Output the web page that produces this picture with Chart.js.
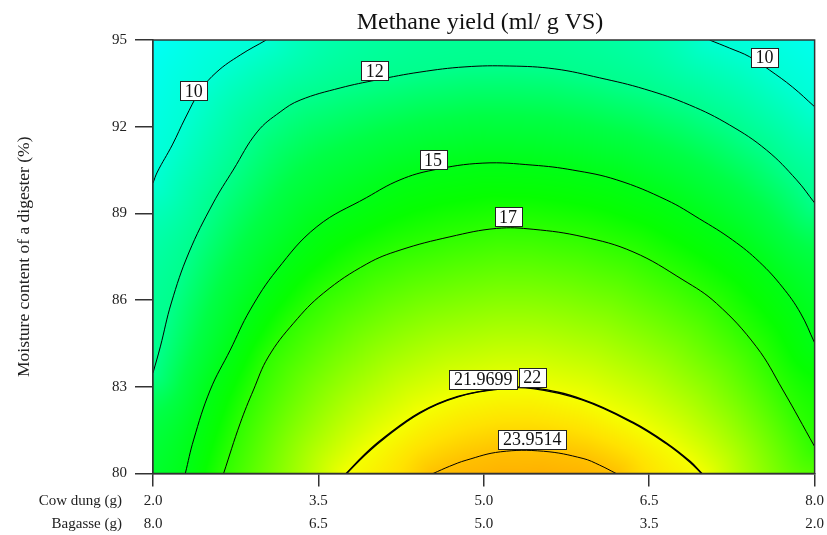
<!DOCTYPE html>
<html>
<head>
<meta charset="utf-8">
<script src="https://cdn.jsdelivr.net/npm/chart.js@4/dist/chart.umd.min.js"></script>
<style>
  html, body { margin: 0; padding: 0; background: #fff; }
  canvas { display: block; }
</style>
</head>
<body>
<canvas id="chart" width="827" height="535"></canvas>
<script>
// Methane yield response surface: contour lines over cow dung (g) × moisture (%)
const chartTitle = 'Methane yield (ml/ g VS)';
const yTitle = 'Moisture content of a digester (%)';
const xRowTitles = ['Cow dung (g)', 'Bagasse (g)'];

const cowDungTicks = [2.0, 3.5, 5.0, 6.5, 8.0];
const bagasseTicks = [8.0, 6.5, 5.0, 3.5, 2.0];
const moistureTicks = [80, 83, 86, 89, 92, 95];

// contour paths as [cow dung, moisture] pairs
const contour10a = [[3.027, 95], [2.791, 94.48], [2.580, 93.90], [2.428, 93.24], [2.293, 92.30], [2.175, 91.37],
  [2.039, 90.43], [2.0, 90.05]];
const contour10b = [[7.047, 95], [7.229, 94.72], [7.410, 94.42], [7.591, 93.96], [7.800, 93.37], [8.0, 92.69]];
const contour12 = [[2.0, 83.48], [2.066, 84.38], [2.166, 85.90], [2.324, 87.63], [2.546, 89.36], [2.727, 90.50],
  [2.945, 91.82], [3.153, 92.51], [3.334, 92.92], [3.697, 93.34], [4.032, 93.62], [4.421, 93.89], [4.829, 94.07],
  [5.236, 94.10], [5.644, 94.00], [6.051, 93.69], [6.459, 93.30], [6.867, 92.75], [7.229, 92.06], [7.564, 91.19],
  [7.836, 90.16], [8.0, 89.36]];
const contour15 = [[2.293, 80], [2.368, 81.16], [2.519, 82.89], [2.700, 84.27], [2.881, 85.66], [3.123, 87.04],
  [3.486, 88.54], [3.938, 89.55], [4.240, 90.16], [4.539, 90.50], [4.992, 90.74], [5.445, 90.67], [5.807, 90.50],
  [6.206, 90.16], [6.659, 89.46], [6.957, 88.81], [7.256, 88.08], [7.499, 87.32], [7.708, 86.45], [7.872, 85.55],
  [8.0, 84.52]];
const contour17 = [[2.640, 80], [2.791, 81.74], [2.911, 82.89], [3.045, 84.03], [3.274, 85.20], [3.545, 86.24],
  [3.938, 87.25], [4.240, 87.73], [4.693, 88.19], [5.116, 88.48], [5.447, 88.45], [5.900, 88.19], [6.353, 87.67],
  [6.806, 86.70], [7.109, 85.89], [7.471, 84.39], [7.712, 82.89], [8.0, 80.93]];
const contour21_9699 = [[3.752, 80], [3.918, 80.66], [4.084, 81.21], [4.418, 82.11], [4.765, 82.67], [5.146, 82.94],
  [5.445, 82.96], [5.901, 82.56], [6.355, 81.77], [6.663, 81.04], [6.871, 80.42], [6.978, 80]];
const contour22 = [[3.757, 80], [3.923, 80.64], [4.089, 81.19], [4.421, 82.09], [4.765, 82.65], [5.146, 82.92],
  [5.445, 82.94], [5.898, 82.54], [6.351, 81.75], [6.659, 81.02], [6.867, 80.40], [6.973, 80]];
const contour23_9514 = [[4.54, 80], [4.69, 80.25], [4.84, 80.46], [5.15, 80.75], [5.54, 80.77], [5.90, 80.52],
  [6.05, 80.29], [6.20, 80]];

const contourPaths = [contour10a, contour10b, contour12, contour15, contour17, contour21_9699, contour22, contour23_9514];
const contourLevels = [10, 10, 12, 15, 17, 21.9699, 22, 23.9514];

// contour level labels and where they sit (cow dung, moisture)
const labelLevels = [10, 10, 12, 15, 17, 21.9699, 22, 23.9514];
const labelX = [2.37, 7.545, 4.01, 4.54, 5.22, 4.995, 5.44, 5.44];
const labelY = [93.24, 94.41, 93.93, 90.85, 88.88, 83.26, 83.33, 81.17];

const X_MIN = 2, X_MAX = 8, Y_MIN = 80, Y_MAX = 95;

// which side of each path is the higher-yield side (closing corners + whether the closed shape is the high side)
const sideRules = [
  { corners: [[X_MIN, Y_MAX]], high: false },
  { corners: [[X_MAX, Y_MAX]], high: false },
  { corners: [[X_MAX, Y_MAX], [X_MIN, Y_MAX]], high: false },
  { corners: [[X_MAX, Y_MIN]], high: true },
  { corners: [[X_MAX, Y_MIN]], high: true },
  { corners: [], high: true },
  { corners: [], high: true },
  { corners: [], high: true }
];

// colour ramp (value -> rgb)
const rampStops = [8.8, 10, 12, 13.5, 15, 16, 17, 19, 20.5, 22, 23, 24, 24.6];
const rampRGB = [[0,255,255],[0,255,212],[0,255,140],[0,255,70],[0,255,22],[6,255,0],[45,255,0],[125,255,0],
  [185,255,0],[245,255,0],[255,226,0],[255,190,0],[255,165,0]];

function rampColor(v) {
  if (v <= rampStops[0]) return rampRGB[0];
  const n = rampStops.length;
  if (v >= rampStops[n - 1]) return rampRGB[n - 1];
  let k = 0;
  while (v > rampStops[k + 1]) k++;
  const t = (v - rampStops[k]) / (rampStops[k + 1] - rampStops[k]);
  const a = rampRGB[k], b = rampRGB[k + 1];
  return [a[0] + (b[0] - a[0]) * t, a[1] + (b[1] - a[1]) * t, a[2] + (b[2] - a[2]) * t];
}

function distToLine(line, px, py) {
  let best = Infinity;
  for (let i = 0; i < line.length - 1; i++) {
    const ax = line[i][0], ay = line[i][1], bx = line[i + 1][0], by = line[i + 1][1];
    const dx = bx - ax, dy = by - ay;
    const len2 = dx * dx + dy * dy;
    let t = len2 > 0 ? ((px - ax) * dx + (py - ay) * dy) / len2 : 0;
    t = t < 0 ? 0 : t > 1 ? 1 : t;
    const ex = ax + t * dx - px, ey = ay + t * dy - py;
    const d = ex * ex + ey * ey;
    if (d < best) best = d;
  }
  return Math.sqrt(best);
}

function insidePoly(poly, px, py) {
  let inside = false;
  for (let i = 0, j = poly.length - 1; i < poly.length; j = i++) {
    const xi = poly[i][0], yi = poly[i][1], xj = poly[j][0], yj = poly[j][1];
    if ((yi > py) !== (yj > py) && px < (xj - xi) * (py - yi) / (yj - yi) + xi) inside = !inside;
  }
  return inside;
}

// shaded surface between the contour lines, blended by distance to the neighbouring levels
function buildSurface(chart) {
  const a = chart.chartArea, xs = chart.scales.x, ys = chart.scales.y;
  const W = Math.round(a.right - a.left), H = Math.round(a.bottom - a.top);
  const toPx = p => [xs.getPixelForValue(p[0]) - a.left, ys.getPixelForValue(p[1]) - a.top];
  const groups = new Map();
  contourPaths.forEach((path, i) => {
    const line = path.map(toPx);
    const poly = line.concat(sideRules[i].corners.map(toPx));
    const lvl = contourLevels[i];
    if (!groups.has(lvl)) groups.set(lvl, []);
    groups.get(lvl).push({ line, poly, high: sideRules[i].high });
  });
  const levels = [...groups.keys()].sort((p, q) => p - q);
  const G = levels.map(l => groups.get(l));
  const n = levels.length;
  const d = new Float64Array(n);
  const off = document.createElement('canvas');
  off.width = W; off.height = H;
  const octx = off.getContext('2d');
  const img = octx.createImageData(W, H);
  for (let j = 0; j < H; j++) {
    const py = j + 0.5;
    for (let i = 0; i < W; i++) {
      const px = i + 0.5;
      let top = -1;
      for (let k = 0; k < n; k++) {
        let dist = Infinity, above = true;
        for (const piece of G[k]) {
          const dd = distToLine(piece.line, px, py);
          if (dd < dist) dist = dd;
          const ins = insidePoly(piece.poly, px, py);
          if (piece.high ? !ins : ins) above = false;
        }
        d[k] = dist;
        if (above) top = k;
      }
      let v;
      if (top < 0) {
        const gap = Math.max(d[1] - d[0], 1);
        v = levels[0] - 0.5 * (levels[1] - levels[0]) * d[0] / gap;
      } else if (top === n - 1) {
        const gap = Math.max(d[n - 2] - d[n - 1], 1);
        v = Math.min(levels[n - 1] + 0.5 * (levels[n - 1] - levels[n - 3]) * d[n - 1] / gap, 24.6);
      } else {
        v = levels[top] + (levels[top + 1] - levels[top]) * d[top] / (d[top] + d[top + 1]);
      }
      const c = rampColor(v);
      const o = (j * W + i) * 4;
      img.data[o] = c[0]; img.data[o + 1] = c[1]; img.data[o + 2] = c[2]; img.data[o + 3] = 255;
    }
  }
  octx.putImageData(img, 0, 0);
  return off;
}

const surfacePlugin = {
  id: 'surface',
  beforeDatasetsDraw(chart) {
    if (!this.img) this.img = buildSurface(chart);
    const a = chart.chartArea;
    chart.ctx.drawImage(this.img, Math.round(a.left), Math.round(a.top));
  }
};

const serif = '"Liberation Serif", "Times New Roman", serif';

const decorPlugin = {
  id: 'decor',
  afterDatasetsDraw(chart) {
    const { ctx, scales: { x, y } } = chart;
    ctx.save();
    ctx.font = '18px ' + serif;
    ctx.textAlign = 'center';
    ctx.textBaseline = 'middle';
    labelLevels.forEach((lvl, i) => {
      const txt = String(lvl);
      const cx = x.getPixelForValue(labelX[i]);
      const cy = y.getPixelForValue(labelY[i]);
      const w = Math.round(ctx.measureText(txt).width + 9);
      const h = 19;
      const l = Math.round(cx - w / 2) + 0.5, t = Math.round(cy - h / 2) + 0.5;
      ctx.fillStyle = '#fff';
      ctx.fillRect(l, t, w, h);
      ctx.strokeStyle = '#222';
      ctx.lineWidth = 1;
      ctx.strokeRect(l, t, w, h);
      ctx.fillStyle = '#111';
      ctx.fillText(txt, cx, cy + 1);
    });
    ctx.restore();
  },
  afterDraw(chart) {
    const { ctx, chartArea: a } = chart;
    ctx.save();
    ctx.strokeStyle = '#333';
    ctx.lineWidth = 1.5;
    ctx.strokeRect(a.left, a.top, a.right - a.left, a.bottom - a.top);

    ctx.fillStyle = '#111';
    ctx.font = '24px ' + serif;
    ctx.textAlign = 'center';
    ctx.textBaseline = 'alphabetic';
    ctx.fillText(chartTitle, 480, 28.5);

    ctx.font = '17.5px ' + serif;
    ctx.fillStyle = '#222';
    ctx.translate(29, (a.top + a.bottom) / 2);
    ctx.rotate(-Math.PI / 2);
    ctx.textAlign = 'center';
    ctx.fillText(yTitle, 0, 0);
    ctx.restore();

    ctx.save();
    ctx.font = '15px ' + serif;
    ctx.fillStyle = '#222';
    ctx.textAlign = 'right';
    ctx.textBaseline = 'middle';
    ctx.fillText(xRowTitles[0], 122, a.bottom + 28);
    ctx.fillText(xRowTitles[1], 122, a.bottom + 51);
    ctx.restore();
  }
};

new Chart(document.getElementById('chart'), {
  type: 'scatter',
  data: {
    datasets: contourPaths.map((path, i) => ({
      label: String(contourLevels[i]),
      data: path.map(p => ({ x: p[0], y: p[1] })),
      showLine: true,
      borderColor: '#000',
      borderWidth: contourLevels[i] > 21 && contourLevels[i] < 23 ? 1.3 : 1,
      pointRadius: 0,
      tension: 0.4,
      fill: false,
      clip: 0
    }))
  },
  options: {
    responsive: false,
    animation: false,
    events: [],
    layout: { padding: { top: 40, right: 12, left: 0, bottom: 0 } },
    plugins: { legend: { display: false }, tooltip: { enabled: false }, title: { display: false } },
    scales: {
      x: {
        type: 'linear', min: X_MIN, max: X_MAX,
        afterBuildTicks: s => { s.ticks = cowDungTicks.map(v => ({ value: v })); },
        afterFit: s => { s.height = 61.5; },
        grid: { drawOnChartArea: false, drawTicks: true, tickLength: 13, color: '#333', lineWidth: 1.5 },
        border: { display: true, color: '#333', width: 1.5 },
        ticks: {
          autoSkip: false, maxRotation: 0, padding: 3, color: '#222',
          font: { family: serif, size: 15, lineHeight: 1.53 },
          callback: (v, i) => [cowDungTicks[i].toFixed(1), bagasseTicks[i].toFixed(1)]
        }
      },
      y: {
        type: 'linear', min: Y_MIN, max: Y_MAX,
        afterBuildTicks: s => { s.ticks = moistureTicks.map(v => ({ value: v })); },
        afterFit: s => { s.width = 153; },
        grid: { drawOnChartArea: false, drawTicks: true, tickLength: 18, color: '#333', lineWidth: 1.5 },
        border: { display: true, color: '#333', width: 1.5 },
        ticks: {
          padding: 8, color: '#222',
          font: { family: serif, size: 15 },
          callback: (v, i) => String(moistureTicks[i])
        }
      }
    }
  },
  plugins: [surfacePlugin, decorPlugin]
});
</script>
</body>
</html>
